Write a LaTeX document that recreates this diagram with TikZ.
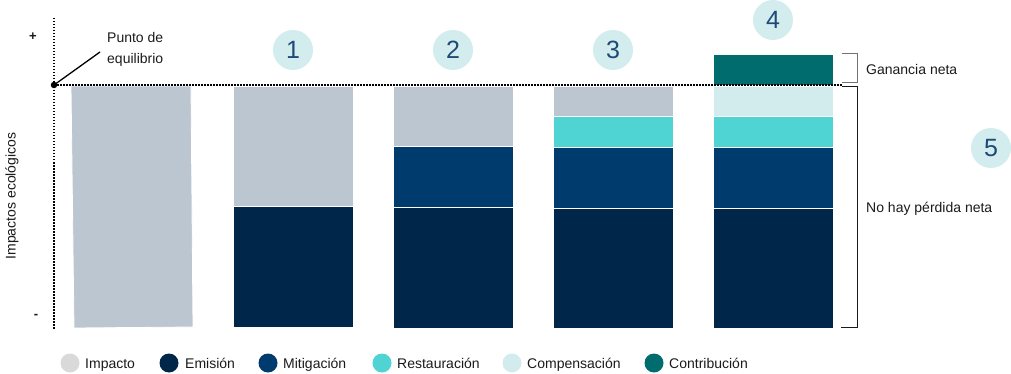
\documentclass[tikz,border=0pt]{standalone}
\usepackage{fontspec}
\setmainfont{Liberation Sans}
\definecolor{cImp}{HTML}{BCC6D0}
\definecolor{cImpL}{HTML}{D9D9D9}
\definecolor{cEmi}{HTML}{00264A}
\definecolor{cMit}{HTML}{003B6E}
\definecolor{cRes}{HTML}{4FD3D3}
\definecolor{cCom}{HTML}{D2ECEE}
\definecolor{cCon}{HTML}{006C6E}
\definecolor{numbg}{HTML}{D3ECEE}
\definecolor{numfg}{HTML}{1E4A78}
\definecolor{txt}{HTML}{1A1A1A}
\begin{document}
\begin{tikzpicture}[x=1pt,y=-1pt,
  seg/.style={draw=white,line width=0.8pt},
  numc/.style={circle,fill=numbg,minimum size=40pt,inner sep=0pt,text=numfg,font=\fontsize{25}{25}\selectfont},
  lbl/.style={anchor=base west,inner sep=0pt,text=txt,font=\fontsize{14}{21}\selectfont},
  legdot/.style={circle,minimum size=19pt,inner sep=0pt},
  dotline/.style={line width=1.5pt,dash pattern=on 1.5pt off 1.5pt},
  brk/.style={line width=1pt}
]
\useasboundingbox (0,0) rectangle (1011,374);
% axes
\draw[dotline] (54,18) -- (54,330);
\node[text=txt,font=\bfseries\fontsize{13}{13}\selectfont] (plus) at (33,37) {+};
\node[text=txt,font=\bfseries\fontsize{13}{13}\selectfont] (minus) at (36,316) {-};
\node[rotate=90,text=txt,font=\fontsize{14}{14}\selectfont] (ylab) at (12,196) {Impactos ecológicos};
% bars
\fill[cImp,seg] (71,86) -- (191,86) -- (193,327) -- (74,328) -- cycle;
\fill[cImp,seg] (233,86) rectangle (353,206);
\fill[cEmi,seg] (233,206) rectangle (353,327);
\fill[cImp,seg] (393,86) rectangle (513,146);
\fill[cMit,seg] (393,146) rectangle (513,207);
\fill[cEmi,seg] (393,207) rectangle (513,328);
\fill[cImp,seg] (553,86) rectangle (673,116);
\fill[cRes,seg] (553,116) rectangle (673,147);
\fill[cMit,seg] (553,147) rectangle (673,208);
\fill[cEmi,seg] (553,208) rectangle (673,328);
\fill[cCon,seg] (713,54) rectangle (833,85);
\fill[cCom,seg] (713,86) rectangle (833,116);
\fill[cRes,seg] (713,116) rectangle (833,147);
\fill[cMit,seg] (713,147) rectangle (833,208);
\fill[cEmi,seg] (713,208) rectangle (833,328);
\draw[dotline] (54,85) -- (843,85);
% equilibrium
\node[circle,fill=black,minimum size=6.5pt,inner sep=0pt] (eq) at (54,85) {};
\coordinate (eqt) at (100,52);
\draw[line width=1.3pt] (eq.center) -- (eqt);
\node[lbl] (eqlbl1) at (107,43) {Punto de};
\node[lbl] (eqlbl2) at (107,64) {equilibrio};
% numbers
\node[numc] (n1) at (293,50) {1};
\node[numc] (n2) at (453,50) {2};
\node[numc] (n3) at (613,50) {3};
\node[numc] (n4) at (773,20) {4};
\node[numc] (n5) at (991,148) {5};
% brackets
\draw[brk,draw=gray!90!black] (842,54) -- (857,54) -- (857,83) -- (842,83);
\draw[brk,draw=txt] (842,87) -- (857,87) -- (857,327) -- (841,327);
\node[lbl] (gan) at (866,75) {Ganancia neta};
\node[lbl] (nhp) at (866,212) {No hay pérdida neta};
% legend
\node[legdot,fill=cImpL] (l1) at (70,363) {};
\node[lbl] (t1) at (85,368) {Impacto};
\node[legdot,fill=cEmi] (l2) at (169,363) {};
\node[lbl] (t2) at (185,368) {Emisión};
\node[legdot,fill=cMit] (l3) at (268,363) {};
\node[lbl] (t3) at (283,368) {Mitigación};
\node[legdot,fill=cRes] (l4) at (382,363) {};
\node[lbl] (t4) at (397,368) {Restauración};
\node[legdot,fill=cCom] (l5) at (512,363) {};
\node[lbl] (t5) at (527,368) {Compensación};
\node[legdot,fill=cCon] (l6) at (654,363) {};
\node[lbl] (t6) at (669,368) {Contribución};
\end{tikzpicture}
\end{document}
